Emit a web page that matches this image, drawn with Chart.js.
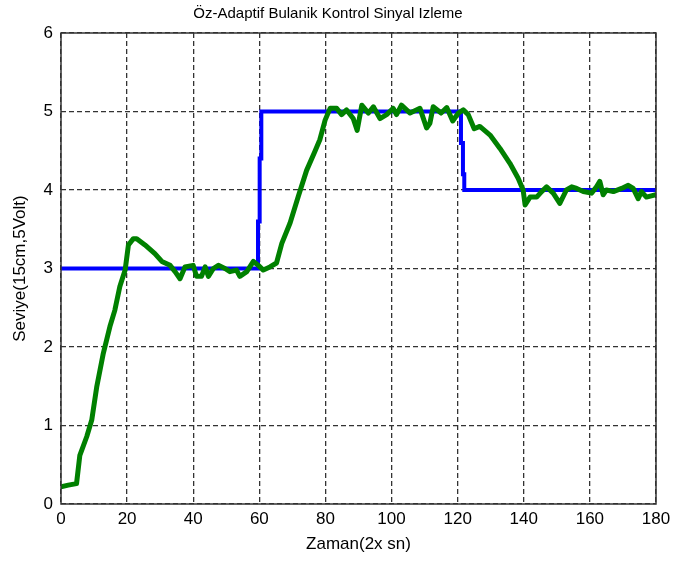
<!DOCTYPE html>
<html>
<head>
<meta charset="utf-8">
<script src="https://cdn.jsdelivr.net/npm/chart.js@4.4.1/dist/chart.umd.min.js"></script>
<style>
  body { margin: 0; background: #fff; }
</style>
</head>
<body>
<canvas id="myChart" width="677" height="563"></canvas>
<script>
// measured output (green)
const timeValues = [0, 2.2, 4.7, 5.7, 7.8, 9.3, 10.8, 12.8, 14.8, 16.3, 17.8, 19.4, 20.4, 21.9, 22.9, 25.4, 28.4, 30.5, 33, 34.5,
    36, 37.5, 40, 41, 42.5, 43.6, 44.6, 46.1, 47.6, 49.6, 51.1, 53.1, 54.1, 56.2, 58.2, 59.7, 61.2, 63.2, 65.2, 66.8,
    69.3, 71.8, 74.3, 76.8, 78.3, 79.9, 81.4, 83.4, 84.9, 86.4, 88.4, 89.6, 91, 93, 94.5, 96.5, 98.5, 100.5, 101.5, 103,
    105.6, 108.6, 110.6, 111.6, 112.6, 115, 116.7, 118.5, 120.2, 121.7, 123.2, 125, 126.7, 129.8, 132.8, 135.8, 138.3, 139.8, 140.4, 141.9,
    143.9, 145.4, 146.9, 148.9, 150.9, 152.9, 154.5, 156, 158, 160.5, 162, 163, 164, 165, 167.1, 169.6, 171.6, 173.1, 174.6, 175.6,
    177.1, 180];
const levelValues = [0.22, 0.24, 0.26, 0.62, 0.86, 1.07, 1.49, 1.92, 2.26, 2.47, 2.77, 2.98, 3.30, 3.38, 3.38, 3.30, 3.19, 3.09, 3.04, 2.96,
    2.87, 3.02, 3.04, 2.90, 2.90, 3.02, 2.90, 3.0, 3.04, 3.0, 2.96, 2.98, 2.90, 2.96, 3.09, 3.04, 2.98, 3.02, 3.07, 3.32,
    3.58, 3.92, 4.25, 4.49, 4.64, 4.89, 5.04, 5.04, 4.96, 5.02, 4.91, 4.76, 5.08, 4.98, 5.06, 4.91, 4.96, 5.04, 4.96, 5.08,
    4.98, 5.04, 4.79, 4.85, 5.06, 4.98, 5.05, 4.88, 4.98, 5.02, 4.96, 4.78, 4.81, 4.70, 4.53, 4.34, 4.15, 4.0, 3.81, 3.91,
    3.91, 3.98, 4.04, 3.96, 3.83, 4.0, 4.04, 4.02, 3.98, 3.96, 4.04, 4.11, 3.94, 4.0, 3.98, 4.02, 4.06, 4.02, 3.89, 3.98,
    3.91, 3.94];

// reference signal (blue)
const refTime = [0, 59.6, 59.6, 60.1, 60.1, 60.6, 60.6, 121, 121, 121.6, 121.6, 122, 122, 180];
const refLevel = [3, 3, 3.6, 3.6, 4.4, 4.4, 5, 5, 4.6, 4.6, 4.2, 4.2, 4, 4];

const xTicks = [0, 20, 40, 60, 80, 100, 120, 140, 160, 180];
const yTicks = [0, 1, 2, 3, 4, 5, 6];

const FONT = "'Liberation Sans', Arial, sans-serif";

function toPoints(xs, ys) {
    return xs.map((x, i) => ({ x: x, y: ys[i] }));
}

// solid box round the plot (matlab style)
const boxPlugin = {
    id: 'box',
    afterDatasetsDraw(chart) {
        const c = chart.ctx;
        const a = chart.chartArea;
        c.save();
        c.strokeStyle = '#333';
        c.lineWidth = 1.5;
        c.setLineDash([]);
        c.strokeRect(a.left, a.top, a.right - a.left, a.bottom - a.top);
        c.restore();
    }
};

const ctx = document.getElementById('myChart').getContext('2d');

const myChart = new Chart(ctx, {
    type: 'line',
    data: {
        datasets: [
            {
                label: 'Seviye',
                data: toPoints(timeValues, levelValues),
                borderColor: 'rgb(0, 128, 0)',
                borderWidth: 5,
                pointRadius: 0,
                tension: 0,
                borderJoinStyle: 'round',
                borderCapStyle: 'round'
            },
            {
                label: 'Referans',
                data: toPoints(refTime, refLevel),
                borderColor: 'rgb(0, 0, 255)',
                borderWidth: 4,
                pointRadius: 0,
                tension: 0
            }
        ]
    },
    options: {
        responsive: false,
        animation: false,
        layout: { padding: { right: 21 } },
        plugins: {
            legend: { display: false },
            tooltip: { enabled: false },
            title: {
                display: true,
                text: 'Öz-Adaptif Bulanik Kontrol Sinyal Izleme',
                color: '#000',
                font: { family: FONT, size: 15, weight: 'normal' },
                padding: { top: 5, bottom: 10 }
            }
        },
        scales: {
            x: {
                type: 'linear',
                min: 0,
                max: 180,
                afterFit: (s) => { s.height = 59; },
                afterBuildTicks: (s) => { s.ticks = xTicks.map(v => ({ value: v })); },
                ticks: { color: '#000', padding: 5, maxRotation: 0, font: { family: FONT, size: 17 } },
                grid: { color: '#333', lineWidth: 1.3, drawTicks: false },
                border: { display: false, dash: [5, 3] },
                title: {
                    display: true,
                    text: 'Zaman(2x sn)',
                    color: '#000',
                    font: { family: FONT, size: 17 },
                    padding: { top: 0, bottom: 8 }
                }
            },
            y: {
                min: 0,
                max: 6,
                afterFit: (s) => { s.width = 61; },
                afterBuildTicks: (s) => { s.ticks = yTicks.map(v => ({ value: v })); },
                ticks: { color: '#000', padding: 8, font: { family: FONT, size: 17 } },
                grid: { color: '#333', lineWidth: 1.3, drawTicks: false },
                border: { display: false, dash: [5, 3] },
                title: {
                    display: true,
                    text: 'Seviye(15cm,5Volt)',
                    color: '#000',
                    font: { family: FONT, size: 17 },
                    padding: { top: 10, bottom: 0 }
                }
            }
        }
    },
    plugins: [boxPlugin]
});
</script>
</body>
</html>
